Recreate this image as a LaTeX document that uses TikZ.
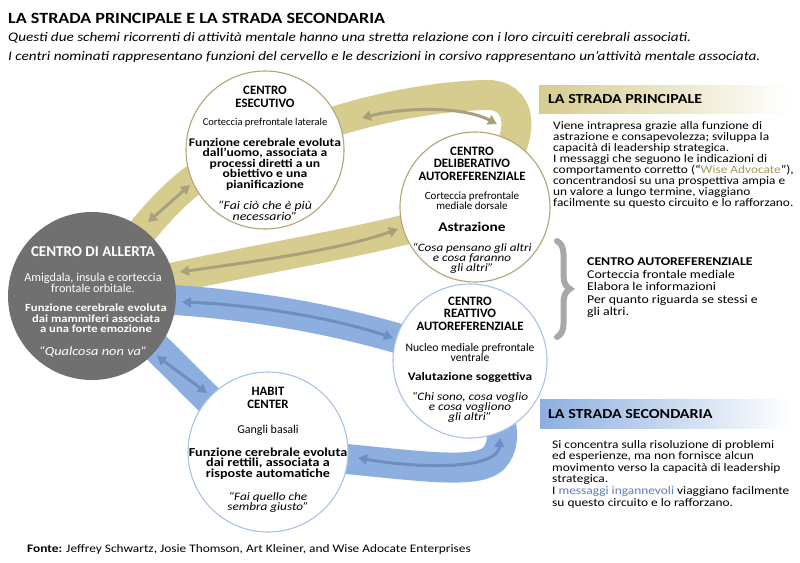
\documentclass[tikz,border=0pt]{standalone}
\usepackage{fontspec}
\setmainfont{Carlito}[FakeStretch=1.16]
\newfontfamily\capsfont{Carlito}
\usetikzlibrary{arrows.meta, positioning, backgrounds, decorations.pathreplacing}
\definecolor{bandgold}{HTML}{D6CC8E}
\definecolor{arrowgold}{HTML}{A9A17B}
\definecolor{ringgold}{HTML}{B3A574}
\definecolor{textgold}{HTML}{A8975E}
\definecolor{bandblue}{HTML}{8DAFDF}
\definecolor{arrowblue}{HTML}{6D8DC3}
\definecolor{ringblue}{HTML}{A9C3E8}
\definecolor{textblue}{HTML}{5A7EC0}
\definecolor{alertgrey}{HTML}{707070}
\definecolor{bracegrey}{HTML}{A8A8A8}

\begin{document}
\begin{tikzpicture}[
    x=1pt, y=-1pt,
    >={Triangle[width=10pt,length=9pt]},
    brainc/.style={circle, inner sep=0pt, minimum size=#1, fill=white, line width=1.1pt},
    ctitle/.style={font=\capsfont\bfseries\fontsize{12.8}{12.4}\selectfont, align=center, inner sep=0pt},
    canat/.style={font=\capsfont\fontsize{10.5}{9.2}\selectfont, align=center, inner sep=0pt},
    cfunc/.style={font=\bfseries\fontsize{11.7}{10.5}\selectfont, align=center, inner sep=0pt},
    cquote/.style={font=\itshape\fontsize{11.5}{10}\selectfont, align=center, inner sep=0pt},
    band/.style={line width=30pt},
    flow/.style={<->, line width=3pt},
    hdbox/.style={anchor=west, minimum height=28pt, inner sep=0pt, right color=white},
    header/.style={font=\bfseries\fontsize{13.8}{14}\selectfont, anchor=west, inner sep=0pt},
    para/.style={anchor=west, align=left, inner sep=0pt, font=\fontsize{11.5}{10.9}\selectfont}
]
\useasboundingbox (0,0) rectangle (800,562);

% title
\node[anchor=west, inner sep=0pt, font=\bfseries\fontsize{15.6}{16}\selectfont] (title) at (8,18) {LA STRADA PRINCIPALE E LA STRADA SECONDARIA};
\node[anchor=west, inner sep=0pt, align=left, font=\itshape\fontsize{13.1}{19}\selectfont] (subtitle) at (8,47.5) {Questi due schemi ricorrenti di attività mentale hanno una stretta relazione con i loro circuiti cerebrali associati.\\I centri nominati rappresentano funzioni del cervello e le descrizioni in corsivo rappresentano un'attività mentale associata.};

% brain centres
\node[brainc=168pt, fill=alertgrey] (alert) at (92,296) {};
\node[brainc=158pt, draw=ringgold] (exec) at (265,150) {};
\node[brainc=150pt, draw=ringgold] (delib) at (475,207) {};
\node[brainc=154pt, draw=ringblue] (react) at (470,361) {};
\node[brainc=160pt, draw=ringblue] (habit) at (268,452) {};

% texts in the centres
\node[ctitle] (execT) at (265,97) {CENTRO\\ESECUTIVO};
\node[canat] (execA) at (265,123) {Corteccia prefrontale laterale};
\node[cfunc] (execF) at (265,164) {Funzione cerebrale evoluta\\dall'uomo, associata a\\processi diretti a un\\obiettivo e una\\pianificazione};
\node[cquote, font=\itshape\fontsize{11.9}{10}\selectfont] (execQ) at (265,210.5) {“Fai ciò che è più\\necessario”};

\node[ctitle] (delibT) at (472,163.5) {CENTRO\\DELIBERATIVO\\AUTOREFERENZIALE};
\node[canat, font=\capsfont\fontsize{11}{9}\selectfont] (delibA) at (472,201) {Corteccia prefrontale\\mediale dorsale};
\node[cfunc, font=\bfseries\fontsize{13.2}{12}\selectfont] (delibF) at (472,227) {Astrazione};
\node[cquote, font=\itshape\fontsize{11.3}{10}\selectfont] (delibQ) at (472,258) {“Cosa pensano gli altri\\e cosa faranno\\gli altri”};

\node[ctitle, white, font=\capsfont\bfseries\fontsize{15}{12}\selectfont] (alertT) at (93,252) {CENTRO DI ALLERTA};
\node[canat, white, font=\capsfont\fontsize{12.2}{10.5}\selectfont] (alertA) at (93,283) {Amigdala, insula e corteccia\\frontale orbitale.};
\node[cfunc, white, font=\bfseries\fontsize{10.9}{10.6}\selectfont] (alertF) at (96,318.5) {Funzione cerebrale evoluta\\dai mammiferi associata\\a una forte emozione};
\node[cquote, white, font=\itshape\fontsize{12.4}{10}\selectfont] (alertQ) at (93,352) {“Qualcosa non va”};

\node[ctitle] (reactT) at (470,313.5) {CENTRO\\REATTIVO\\AUTOREFERENZIALE};
\node[canat, font=\capsfont\fontsize{11.6}{9.2}\selectfont] (reactA) at (470,352.5) {Nucleo mediale prefrontale\\ventrale};
\node[cfunc, font=\bfseries\fontsize{11.5}{10.3}\selectfont] (reactF) at (470,377) {Valutazione soggettiva};
\node[cquote, font=\itshape\fontsize{11.4}{10}\selectfont] (reactQ) at (470,407) {“Chi sono, cosa voglio\\e cosa vogliono\\gli altri”};

\node[ctitle] (habitT) at (268,398) {HABIT\\CENTER};
\node[canat, font=\capsfont\fontsize{12}{12}\selectfont] (habitA) at (268,430) {Gangli basali};
\node[cfunc, font=\bfseries\fontsize{12.2}{10.8}\selectfont] (habitF) at (268,463.5) {Funzione cerebrale evoluta\\dai rettili, associata a\\risposte automatiche};
\node[cquote, font=\itshape\fontsize{11.4}{10}\selectfont] (habitQ) at (268,502) {“Fai quello che\\sembra giusto”};

% arrow ends
\coordinate (ae1) at (148,222);
\coordinate (ae2) at (190,185);
\coordinate (ed1) at (362,118);
\coordinate (ed2) at (497,124);
\coordinate (da1) at (180,272);
\coordinate (da2) at (398,229);
\coordinate (ar1) at (182,302);
\coordinate (ar2) at (393,338);
\coordinate (rh1) at (500,438);
\coordinate (rh2) at (358,458);
\coordinate (ha1) at (207,393);
\coordinate (ha2) at (157,356);

% circuits
\begin{pgfonlayer}{background}
\fill[white] (0,0) rectangle (800,562);
\draw[band, bandgold] (alert.center) .. controls (150,220) and (190,160) .. (exec.center);
\draw[band, bandgold] (exec.center) .. controls (330,115) and (430,95) .. (490,95) .. controls (525,98) and (530,140) .. (delib.center);
\draw[band, bandgold] (delib.center) .. controls (400,240) and (260,255) .. (alert.center);
\draw[band, bandblue] (alert.center) .. controls (250,300) and (350,320) .. (react.center);
\draw[band, bandblue] (react.center) .. controls (498,400) and (512,438) .. (494,458) .. controls (474,478) and (400,462) .. (habit.center);
\draw[band, bandblue] (habit.center) .. controls (200,400) and (150,330) .. (alert.center);
\draw[flow, arrowgold] (ae1) -- (ae2);
\draw[flow, arrowgold] (ed1) .. controls (400,108) and (460,105) .. (ed2);
\draw[flow, arrowgold] (da1) .. controls (250,262) and (340,250) .. (da2);
\draw[flow, arrowblue] (ar1) .. controls (260,305) and (340,320) .. (ar2);
\draw[flow, arrowblue] (rh2) .. controls (430,470) and (498,468) .. (rh1);
\draw[flow, arrowblue] (ha2) -- (ha1);
\end{pgfonlayer}

% la strada principale
\node[hdbox, left color=bandgold, minimum width=251pt] (mainbox) at (539,99) {};
\node[header, right=9pt of mainbox.west] (mainhd) {LA STRADA PRINCIPALE};
\node[para] (mainpara) at (553,165) {Viene intrapresa grazie alla funzione di\\astrazione e consapevolezza; sviluppa la\\capacità di leadership strategica.\\I messaggi che seguono le indicazioni di\\comportamento corretto (“{\color{textgold}Wise Advocate}”),\\concentrandosi su una prospettiva ampia e\\un valore a lungo termine, viaggiano\\facilmente su questo circuito e lo rafforzano.};

% centro autoreferenziale
\coordinate (bracetop) at (557,241);
\coordinate (bracebot) at (557,337);
\draw[bracegrey, line width=6pt, line cap=round, decorate, decoration={brace, amplitude=13pt}] (bracetop) -- (bracebot);
\node[para, font=\fontsize{11.9}{12.5}\selectfont] (selfpara) at (587,288) {\textbf{CENTRO AUTOREFERENZIALE}\\Corteccia frontale mediale\\Elabora le informazioni\\Per quanto riguarda se stessi e\\gli altri.};

% la strada secondaria
\node[hdbox, left color=bandblue, minimum width=250pt, minimum height=29pt] (secbox) at (540,414) {};
\node[header, right=8pt of secbox.west] (sechd) {LA STRADA SECONDARIA};
\node[para, font=\fontsize{11.55}{11.6}\selectfont] (secpara) at (552,474) {Si concentra sulla risoluzione di problemi\\ed esperienze, ma non fornisce alcun\\movimento verso la capacità di leadership\\strategica.\\I {\color{textblue}messaggi ingannevoli} viaggiano facilmente\\su questo circuito e lo rafforzano.};

% fonte
\node[anchor=west, inner sep=0pt, font=\fontsize{11.5}{12}\selectfont] (source) at (27,549) {\textbf{Fonte:} Jeffrey Schwartz, Josie Thomson, Art Kleiner, and Wise Adocate Enterprises};
\end{tikzpicture}
\end{document}
